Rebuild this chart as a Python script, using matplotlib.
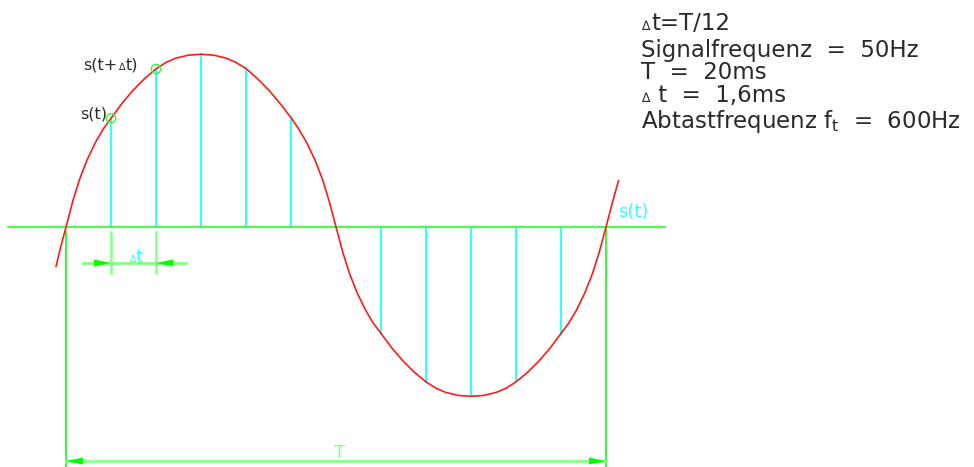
import matplotlib.pyplot as plt
from matplotlib.patches import Polygon

# %% Data (time in ms, amplitude normalised to the peak)
T = 20.0          # period in ms
n_per_period = 12
dt = T / n_per_period

t_curve = [-0.37, -0.20, 0.0, 0.25, 0.50, 0.78, 1.09, 1.38, 1.67, 2.08, 2.48, 2.90, 3.33,
           3.70, 4.06, 4.53, 5.00, 5.47, 5.94, 6.30, 6.67, 7.10, 7.52, 7.92, 8.33, 8.62,
           8.91, 9.22, 9.50, 9.75, 10.00, 10.25, 10.50, 10.78, 11.09, 11.38, 11.67, 12.08,
           12.48, 12.90, 13.33, 13.70, 14.06, 14.53, 15.00, 15.47, 15.94, 16.30, 16.67,
           17.10, 17.52, 17.92, 18.33, 18.62, 18.91, 19.22, 19.50, 19.75, 20.00, 20.25,
           20.46]
s_curve = [-0.23, -0.12, 0.0, 0.15, 0.278, 0.392, 0.495, 0.573, 0.636, 0.724, 0.799, 0.866,
           0.924, 0.962, 0.987, 1.005, 1.01, 1.005, 0.987, 0.962, 0.926, 0.866, 0.799,
           0.724, 0.640, 0.573, 0.495, 0.392, 0.278, 0.15, 0.0, -0.147, -0.272, -0.384,
           -0.485, -0.562, -0.623, -0.71, -0.783, -0.849, -0.905, -0.943, -0.967, -0.985,
           -0.99, -0.985, -0.967, -0.943, -0.905, -0.849, -0.783, -0.71, -0.623, -0.562,
           -0.485, -0.384, -0.272, -0.147, 0.0, 0.15, 0.27]

# sampled values s(k*dt), k = 1..11
k_samples = [1, 2, 3, 4, 5, 6, 7, 8, 9, 10, 11]
s_samples = [0.636, 0.924, 1.01, 0.926, 0.640, 0.0, -0.623, -0.905, -0.99, -0.905, -0.623]

info_lines = ["t=T/12", "Signalfrequenz  =  50Hz", "T  =  20ms", "t  =  1,6ms",
              "Abtastfrequenz f$_\\mathregular{t}$  =  600Hz"]

# %% Figure in a pixel-like frame
W, H = 974, 467
X0, Y0 = 66.0, 227.0      # pixel position of t=0, s=0
PX_T, PX_S = 27.0, 171.0  # pixels per ms / per unit amplitude

RED = '#ff1a1a'
CYAN = '#33ffff'
GREEN = '#33ff33'
LGREEN = '#88ff88'
TXT = '#2a2a2a'
FONT = 'DejaVu Sans'

fig = plt.figure(figsize=(W / 100, H / 100), dpi=100)
ax = fig.add_axes([0, 0, 1, 1])
ax.set_xlim(-X0 / PX_T, (W - X0) / PX_T)
ax.set_ylim((Y0 - H) / PX_S, Y0 / PX_S)
ax.axis('off')
renderer = fig.canvas.get_renderer()


def tx(px):
    return (px - X0) / PX_T


def sy(py):
    return (Y0 - py) / PX_S


def put(px, py, s, **kw):
    kw.setdefault('family', FONT)
    kw.setdefault('va', 'baseline')
    return fig.text(px / W, 1 - py / H, s, **kw)


def put_chain(px, py, parts, color, gap=1):
    # parts: list of (text, fontsize); each placed right after the previous one
    x = px
    for s, size in parts:
        t = put(x, py, s, color=color, fontsize=size)
        x = t.get_window_extent(renderer).x1 + gap
    return x


# zero line
ax.plot([tx(8), tx(665)], [0, 0], color=GREEN, lw=1.3, zorder=2)

# sample lines
t_samples = [k * dt for k in k_samples]
for t, s in zip(t_samples, s_samples):
    ax.plot([t, t], [0, s], color=CYAN, lw=1.5, zorder=1)

# signal
ax.plot(t_curve, s_curve, color=RED, lw=1.2, zorder=3, solid_joinstyle='round')

# marked samples s(t), s(t+dt)
ax.scatter(t_samples[:2], s_samples[:2], s=45, facecolors='none',
           edgecolors=GREEN, linewidths=1.0, zorder=4)


def arrow_head(tip_t, tip_s, direction):
    L = 17 / PX_T
    hw = 3.5 / PX_S
    pts = [(tip_t, tip_s), (tip_t - direction * L, tip_s + hw),
           (tip_t - direction * L, tip_s - hw)]
    ax.add_patch(Polygon(pts, closed=True, color='#00ff00', lw=0, zorder=5))


# dimension T
ax.plot([0, 0], [sy(232), sy(H + 2)], color=GREEN, lw=1.4, zorder=2)
ax.plot([T, T], [0, sy(H + 2)], color=GREEN, lw=1.4, zorder=2)
ax.plot([0, T], [sy(461), sy(461)], color=LGREEN, lw=2.0, zorder=2)
arrow_head(0, sy(461), -1)
arrow_head(T, sy(461), 1)
put(X0 + PX_T * T / 2 + 4, 458, 'T', color=LGREEN, fontsize=13, ha='center')

# dimension dt
for t in t_samples[:2]:
    ax.plot([t, t], [sy(232), sy(273)], color=LGREEN, lw=1.8, zorder=2)
ax.plot([tx(83), tx(186)], [sy(263), sy(263)], color=LGREEN, lw=2.0, zorder=2)
arrow_head(t_samples[0], sy(263), 1)
arrow_head(t_samples[1], sy(263), -1)
put_chain(129, 262, [('\u2206', 7), ('t', 13)], CYAN, gap=0)

# labels
put(80, 119, 's(t)', color=TXT, fontsize=11.5)
put_chain(83, 70, [('s(t+', 11.5), ('\u2206', 7), ('t)', 11.5)], TXT, gap=1)
put(618, 217, 's(t)', color=CYAN, fontsize=13)

# info block
baselines = [30, 57, 79, 102, 128]
for i, (line, yb) in enumerate(zip(info_lines, baselines)):
    if i in (0, 3):
        put_chain(641, yb, [('\u2206', 9), (' ' * (i // 3) + line, 16.5)], TXT, gap=2)
    else:
        put(641, yb, line, color=TXT, fontsize=16.5)

fig.savefig('out.png', dpi=100, facecolor='white')
